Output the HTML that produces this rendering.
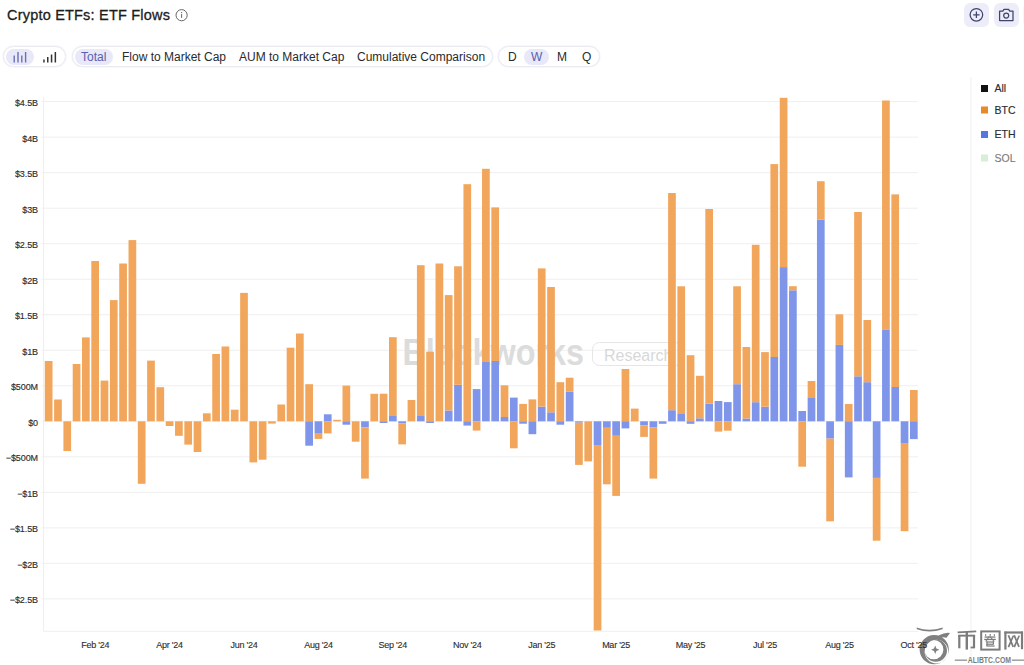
<!DOCTYPE html>
<html>
<head>
<meta charset="utf-8">
<style>
html,body{margin:0;padding:0;background:#fff;}
body{width:1024px;height:665px;overflow:hidden;position:relative;font-family:"Liberation Sans",sans-serif;color:#1f1f1f;}
.title{position:absolute;left:7px;top:5px;font-size:14.5px;line-height:20px;color:#1c1c1c;white-space:nowrap;letter-spacing:0.2px;-webkit-text-stroke:0.3px #1c1c1c;}
.pill{position:absolute;top:46px;height:21px;border:1px solid #EAEAF3;border-radius:12px;box-sizing:border-box;background:#fff;box-shadow:0 0 1px 0.5px #F2F2F8;}
.seg{position:absolute;top:3px;height:15px;border-radius:8px;}
.sel{background:#E8E8F8;}
.lbl{position:absolute;top:50px;font-size:12px;line-height:14px;color:#2a2a2a;white-space:nowrap;}
.lbl.on{color:#5a5eae;}
.btn{position:absolute;top:3px;width:25px;height:24px;border-radius:6px;background:#EDEDFA;}
svg text{font-family:"Liberation Sans",sans-serif;}
.yl{font-size:9px;fill:#2e2e2e;stroke:#2e2e2e;stroke-width:0.15px;letter-spacing:-0.1px;}
.xl{font-size:9px;fill:#2e2e2e;stroke:#2e2e2e;stroke-width:0.12px;letter-spacing:-0.25px;}
.lg{font-size:10.5px;fill:#2c2c2c;stroke:#2c2c2c;stroke-width:0.15px;}
</style>
</head>
<body>
<div class="title">Crypto ETFs: ETF Flows</div>
<svg style="position:absolute;left:174px;top:8px" viewBox="0 0 15 15" width="15" height="15"><circle cx="7.6" cy="7.2" r="5.6" fill="none" stroke="#666" stroke-width="1"/><rect x="7.1" y="6" width="1" height="3.9" fill="#666"/><rect x="7.1" y="4" width="1" height="1.1" fill="#666"/></svg>

<div class="pill" style="left:3px;width:63px;"></div>
<div class="seg sel" style="left:6px;top:49px;width:28px;height:16px;position:absolute;"></div>
<svg style="position:absolute;left:12px;top:50px" width="16" height="14" viewBox="0 0 16 14"><g fill="#6a6fb8"><rect x="1.5" y="5.5" width="1.4" height="7"/><rect x="5.3" y="2" width="1.4" height="10.5"/><rect x="9.1" y="5.5" width="1.4" height="7"/><rect x="12.9" y="2" width="1.4" height="10.5"/></g></svg>
<svg style="position:absolute;left:42px;top:50px" width="16" height="14" viewBox="0 0 16 14"><g fill="#333"><rect x="1.2" y="9.5" width="1.5" height="3"/><rect x="5" y="7" width="1.5" height="5.5"/><rect x="8.8" y="4.5" width="1.5" height="8"/><rect x="12.6" y="2" width="1.5" height="10.5"/></g></svg>

<div class="pill" style="left:72px;width:421px;"></div>
<div class="seg sel" style="left:75px;top:49px;width:38px;height:16px;position:absolute;"></div>
<div class="lbl on" style="left:81px;">Total</div>
<div class="lbl" style="left:122px;">Flow to Market Cap</div>
<div class="lbl" style="left:239px;">AUM to Market Cap</div>
<div class="lbl" style="left:357px;">Cumulative Comparison</div>

<div class="pill" style="left:498px;width:102px;"></div>
<div class="seg sel" style="left:524px;top:49px;width:25px;height:16px;position:absolute;"></div>
<div class="lbl" style="left:508px;">D</div>
<div class="lbl on" style="left:531px;">W</div>
<div class="lbl" style="left:557px;">M</div>
<div class="lbl" style="left:582px;">Q</div>

<div class="btn" style="left:963.5px;"></div>
<svg style="position:absolute;left:964px;top:3px" width="24" height="24" viewBox="0 0 24 24"><circle cx="12.4" cy="11.8" r="6.3" fill="none" stroke="#40436c" stroke-width="1.25"/><path d="M12.4 8.6v6.4M9.2 11.8h6.4" stroke="#40436c" stroke-width="1.25"/></svg>
<div class="btn" style="left:993.5px;"></div>
<svg style="position:absolute;left:994px;top:3px" width="24" height="24" viewBox="0 0 24 24"><path d="M5.6 8.2h3.2l1.2-1.9h4.6l1.2 1.9h3.2v9.4H5.6z" fill="none" stroke="#40436c" stroke-width="1.25" stroke-linejoin="round"/><circle cx="12.2" cy="12.5" r="2.5" fill="none" stroke="#40436c" stroke-width="1.25"/></svg>

<svg style="position:absolute;left:0;top:0" width="1024" height="665" viewBox="0 0 1024 665">
<g>
<line x1="41.5" y1="101.62" x2="918" y2="101.62" stroke="#EFEFEF" stroke-width="1"/>
<text x="38" y="106.02" text-anchor="end" class="yl">$4.5B</text>
<line x1="41.5" y1="137.14" x2="918" y2="137.14" stroke="#EFEFEF" stroke-width="1"/>
<text x="38" y="141.54" text-anchor="end" class="yl">$4B</text>
<line x1="41.5" y1="172.66" x2="918" y2="172.66" stroke="#EFEFEF" stroke-width="1"/>
<text x="38" y="177.06" text-anchor="end" class="yl">$3.5B</text>
<line x1="41.5" y1="208.18" x2="918" y2="208.18" stroke="#EFEFEF" stroke-width="1"/>
<text x="38" y="212.58" text-anchor="end" class="yl">$3B</text>
<line x1="41.5" y1="243.70" x2="918" y2="243.70" stroke="#EFEFEF" stroke-width="1"/>
<text x="38" y="248.10" text-anchor="end" class="yl">$2.5B</text>
<line x1="41.5" y1="279.22" x2="918" y2="279.22" stroke="#EFEFEF" stroke-width="1"/>
<text x="38" y="283.62" text-anchor="end" class="yl">$2B</text>
<line x1="41.5" y1="314.74" x2="918" y2="314.74" stroke="#EFEFEF" stroke-width="1"/>
<text x="38" y="319.14" text-anchor="end" class="yl">$1.5B</text>
<line x1="41.5" y1="350.26" x2="918" y2="350.26" stroke="#EFEFEF" stroke-width="1"/>
<text x="38" y="354.66" text-anchor="end" class="yl">$1B</text>
<line x1="41.5" y1="385.78" x2="918" y2="385.78" stroke="#EFEFEF" stroke-width="1"/>
<text x="38" y="390.18" text-anchor="end" class="yl">$500M</text>
<line x1="41.5" y1="421.30" x2="918" y2="421.30" stroke="#EFEFEF" stroke-width="1"/>
<text x="38" y="425.70" text-anchor="end" class="yl">$0</text>
<line x1="41.5" y1="456.82" x2="918" y2="456.82" stroke="#EFEFEF" stroke-width="1"/>
<text x="38" y="461.22" text-anchor="end" class="yl">−$500M</text>
<line x1="41.5" y1="492.34" x2="918" y2="492.34" stroke="#EFEFEF" stroke-width="1"/>
<text x="38" y="496.74" text-anchor="end" class="yl">−$1B</text>
<line x1="41.5" y1="527.86" x2="918" y2="527.86" stroke="#EFEFEF" stroke-width="1"/>
<text x="38" y="532.26" text-anchor="end" class="yl">−$1.5B</text>
<line x1="41.5" y1="563.38" x2="918" y2="563.38" stroke="#EFEFEF" stroke-width="1"/>
<text x="38" y="567.78" text-anchor="end" class="yl">−$2B</text>
<line x1="41.5" y1="598.90" x2="918" y2="598.90" stroke="#EFEFEF" stroke-width="1"/>
<text x="38" y="603.30" text-anchor="end" class="yl">−$2.5B</text>
<line x1="43.6" y1="97" x2="43.6" y2="631.3" stroke="#EFEFEF" stroke-width="1"/>
<line x1="43.6" y1="631.3" x2="918" y2="631.3" stroke="#EFEFEF" stroke-width="1"/>
</g>
<text x="402.5" y="365" font-size="37" font-weight="bold" fill="#DCDCDC" textLength="181.5" lengthAdjust="spacingAndGlyphs">Blockworks</text>
<rect x="592.5" y="342.5" width="90" height="23" rx="7" fill="none" stroke="#E6E6E6" stroke-width="1"/>
<text x="604" y="361" font-size="16" fill="#D8D8D8">Research</text>
<g>
<rect x="44.80" y="361.00" width="7.7" height="60.30" fill="#F1A65C"/>
<rect x="54.10" y="399.50" width="7.7" height="21.80" fill="#F1A65C"/>
<rect x="63.41" y="421.30" width="7.7" height="29.70" fill="#F1A65C"/>
<rect x="72.71" y="364.00" width="7.7" height="57.30" fill="#F1A65C"/>
<rect x="82.01" y="337.40" width="7.7" height="83.90" fill="#F1A65C"/>
<rect x="91.31" y="261.00" width="7.7" height="160.30" fill="#F1A65C"/>
<rect x="100.62" y="380.60" width="7.7" height="40.70" fill="#F1A65C"/>
<rect x="109.92" y="300.10" width="7.7" height="121.20" fill="#F1A65C"/>
<rect x="119.22" y="263.50" width="7.7" height="157.80" fill="#F1A65C"/>
<rect x="128.53" y="240.10" width="7.7" height="181.20" fill="#F1A65C"/>
<rect x="137.83" y="421.30" width="7.7" height="62.50" fill="#F1A65C"/>
<rect x="147.13" y="360.60" width="7.7" height="60.70" fill="#F1A65C"/>
<rect x="156.44" y="387.20" width="7.7" height="34.10" fill="#F1A65C"/>
<rect x="165.74" y="421.30" width="7.7" height="4.70" fill="#F1A65C"/>
<rect x="175.04" y="421.30" width="7.7" height="14.50" fill="#F1A65C"/>
<rect x="184.35" y="421.30" width="7.7" height="23.30" fill="#F1A65C"/>
<rect x="193.65" y="421.30" width="7.7" height="30.70" fill="#F1A65C"/>
<rect x="202.95" y="413.30" width="7.7" height="8.00" fill="#F1A65C"/>
<rect x="212.25" y="354.00" width="7.7" height="67.30" fill="#F1A65C"/>
<rect x="221.56" y="346.50" width="7.7" height="74.80" fill="#F1A65C"/>
<rect x="230.86" y="409.70" width="7.7" height="11.60" fill="#F1A65C"/>
<rect x="240.16" y="292.90" width="7.7" height="128.40" fill="#F1A65C"/>
<rect x="249.47" y="421.30" width="7.7" height="41.10" fill="#F1A65C"/>
<rect x="258.77" y="421.30" width="7.7" height="38.40" fill="#F1A65C"/>
<rect x="268.07" y="421.30" width="7.7" height="2.30" fill="#F1A65C"/>
<rect x="277.38" y="404.50" width="7.7" height="16.80" fill="#F1A65C"/>
<rect x="286.68" y="347.70" width="7.7" height="73.60" fill="#F1A65C"/>
<rect x="295.98" y="333.50" width="7.7" height="87.80" fill="#F1A65C"/>
<rect x="305.28" y="384.20" width="7.7" height="37.10" fill="#F1A65C"/>
<rect x="305.28" y="421.30" width="7.7" height="24.40" fill="#7E95EA"/>
<rect x="314.59" y="421.30" width="7.7" height="12.40" fill="#7E95EA"/>
<rect x="314.59" y="433.70" width="7.7" height="5.20" fill="#F1A65C"/>
<rect x="323.89" y="414.30" width="7.7" height="7.00" fill="#7E95EA"/>
<rect x="323.89" y="421.30" width="7.7" height="12.10" fill="#F1A65C"/>
<rect x="333.19" y="419.80" width="7.7" height="1.50" fill="#F1A65C"/>
<rect x="342.50" y="385.60" width="7.7" height="35.70" fill="#F1A65C"/>
<rect x="342.50" y="421.30" width="7.7" height="3.40" fill="#7E95EA"/>
<rect x="351.80" y="421.30" width="7.7" height="20.40" fill="#F1A65C"/>
<rect x="361.10" y="421.30" width="7.7" height="6.20" fill="#7E95EA"/>
<rect x="361.10" y="427.50" width="7.7" height="51.10" fill="#F1A65C"/>
<rect x="370.41" y="393.80" width="7.7" height="27.50" fill="#F1A65C"/>
<rect x="379.71" y="393.70" width="7.7" height="27.60" fill="#F1A65C"/>
<rect x="379.71" y="421.30" width="7.7" height="1.70" fill="#7E95EA"/>
<rect x="389.01" y="416.00" width="7.7" height="5.30" fill="#7E95EA"/>
<rect x="389.01" y="337.20" width="7.7" height="78.80" fill="#F1A65C"/>
<rect x="398.31" y="421.30" width="7.7" height="2.10" fill="#7E95EA"/>
<rect x="398.31" y="423.40" width="7.7" height="21.00" fill="#F1A65C"/>
<rect x="407.62" y="400.00" width="7.7" height="21.30" fill="#F1A65C"/>
<rect x="416.92" y="416.00" width="7.7" height="5.30" fill="#7E95EA"/>
<rect x="416.92" y="265.20" width="7.7" height="150.80" fill="#F1A65C"/>
<rect x="426.22" y="351.70" width="7.7" height="69.60" fill="#F1A65C"/>
<rect x="426.22" y="421.30" width="7.7" height="1.70" fill="#7E95EA"/>
<rect x="435.53" y="263.50" width="7.7" height="157.80" fill="#F1A65C"/>
<rect x="444.83" y="410.50" width="7.7" height="10.80" fill="#7E95EA"/>
<rect x="444.83" y="295.10" width="7.7" height="115.40" fill="#F1A65C"/>
<rect x="454.13" y="384.80" width="7.7" height="36.50" fill="#7E95EA"/>
<rect x="454.13" y="266.30" width="7.7" height="118.50" fill="#F1A65C"/>
<rect x="463.44" y="184.20" width="7.7" height="237.10" fill="#F1A65C"/>
<rect x="463.44" y="421.30" width="7.7" height="4.30" fill="#7E95EA"/>
<rect x="472.74" y="389.10" width="7.7" height="32.20" fill="#7E95EA"/>
<rect x="472.74" y="421.30" width="7.7" height="9.30" fill="#F1A65C"/>
<rect x="482.04" y="362.00" width="7.7" height="59.30" fill="#7E95EA"/>
<rect x="482.04" y="168.80" width="7.7" height="193.20" fill="#F1A65C"/>
<rect x="491.34" y="361.00" width="7.7" height="60.30" fill="#7E95EA"/>
<rect x="491.34" y="207.40" width="7.7" height="153.60" fill="#F1A65C"/>
<rect x="500.65" y="417.00" width="7.7" height="4.30" fill="#7E95EA"/>
<rect x="500.65" y="385.30" width="7.7" height="31.70" fill="#F1A65C"/>
<rect x="509.95" y="397.60" width="7.7" height="23.70" fill="#7E95EA"/>
<rect x="509.95" y="421.30" width="7.7" height="27.00" fill="#F1A65C"/>
<rect x="519.25" y="403.90" width="7.7" height="17.40" fill="#F1A65C"/>
<rect x="519.25" y="421.30" width="7.7" height="2.40" fill="#7E95EA"/>
<rect x="528.56" y="399.40" width="7.7" height="21.90" fill="#F1A65C"/>
<rect x="528.56" y="421.30" width="7.7" height="12.90" fill="#7E95EA"/>
<rect x="537.86" y="406.60" width="7.7" height="14.70" fill="#7E95EA"/>
<rect x="537.86" y="268.40" width="7.7" height="138.20" fill="#F1A65C"/>
<rect x="547.16" y="412.30" width="7.7" height="9.00" fill="#7E95EA"/>
<rect x="547.16" y="287.00" width="7.7" height="125.30" fill="#F1A65C"/>
<rect x="556.47" y="382.20" width="7.7" height="39.10" fill="#F1A65C"/>
<rect x="556.47" y="421.30" width="7.7" height="3.40" fill="#7E95EA"/>
<rect x="565.77" y="391.80" width="7.7" height="29.50" fill="#7E95EA"/>
<rect x="565.77" y="377.70" width="7.7" height="14.10" fill="#F1A65C"/>
<rect x="575.07" y="421.30" width="7.7" height="1.40" fill="#7E95EA"/>
<rect x="575.07" y="422.70" width="7.7" height="42.20" fill="#F1A65C"/>
<rect x="584.37" y="421.30" width="7.7" height="40.10" fill="#F1A65C"/>
<rect x="593.68" y="421.30" width="7.7" height="24.40" fill="#7E95EA"/>
<rect x="593.68" y="445.70" width="7.7" height="184.80" fill="#F1A65C"/>
<rect x="602.98" y="421.30" width="7.7" height="6.50" fill="#7E95EA"/>
<rect x="602.98" y="427.80" width="7.7" height="56.50" fill="#F1A65C"/>
<rect x="612.28" y="421.30" width="7.7" height="14.50" fill="#7E95EA"/>
<rect x="612.28" y="435.80" width="7.7" height="60.10" fill="#F1A65C"/>
<rect x="621.59" y="369.00" width="7.7" height="52.30" fill="#F1A65C"/>
<rect x="621.59" y="421.30" width="7.7" height="7.10" fill="#7E95EA"/>
<rect x="630.89" y="408.60" width="7.7" height="12.70" fill="#F1A65C"/>
<rect x="640.19" y="421.30" width="7.7" height="4.00" fill="#7E95EA"/>
<rect x="640.19" y="425.30" width="7.7" height="11.60" fill="#F1A65C"/>
<rect x="649.50" y="421.30" width="7.7" height="5.90" fill="#7E95EA"/>
<rect x="649.50" y="427.20" width="7.7" height="51.40" fill="#F1A65C"/>
<rect x="658.80" y="421.30" width="7.7" height="2.50" fill="#7E95EA"/>
<rect x="668.10" y="410.20" width="7.7" height="11.10" fill="#7E95EA"/>
<rect x="668.10" y="193.00" width="7.7" height="217.20" fill="#F1A65C"/>
<rect x="677.40" y="414.00" width="7.7" height="7.30" fill="#7E95EA"/>
<rect x="677.40" y="286.30" width="7.7" height="127.70" fill="#F1A65C"/>
<rect x="686.71" y="355.20" width="7.7" height="66.10" fill="#F1A65C"/>
<rect x="686.71" y="421.30" width="7.7" height="2.50" fill="#7E95EA"/>
<rect x="696.01" y="418.30" width="7.7" height="3.00" fill="#7E95EA"/>
<rect x="696.01" y="375.80" width="7.7" height="42.50" fill="#F1A65C"/>
<rect x="705.31" y="403.60" width="7.7" height="17.70" fill="#7E95EA"/>
<rect x="705.31" y="209.00" width="7.7" height="194.60" fill="#F1A65C"/>
<rect x="714.62" y="401.00" width="7.7" height="20.30" fill="#7E95EA"/>
<rect x="714.62" y="421.30" width="7.7" height="10.30" fill="#F1A65C"/>
<rect x="723.92" y="402.10" width="7.7" height="19.20" fill="#7E95EA"/>
<rect x="723.92" y="421.30" width="7.7" height="9.40" fill="#F1A65C"/>
<rect x="733.22" y="384.20" width="7.7" height="37.10" fill="#7E95EA"/>
<rect x="733.22" y="286.30" width="7.7" height="97.90" fill="#F1A65C"/>
<rect x="742.52" y="418.50" width="7.7" height="2.80" fill="#7E95EA"/>
<rect x="742.52" y="347.00" width="7.7" height="71.50" fill="#F1A65C"/>
<rect x="751.83" y="402.20" width="7.7" height="19.10" fill="#7E95EA"/>
<rect x="751.83" y="244.80" width="7.7" height="157.40" fill="#F1A65C"/>
<rect x="761.13" y="406.70" width="7.7" height="14.60" fill="#7E95EA"/>
<rect x="761.13" y="352.10" width="7.7" height="54.60" fill="#F1A65C"/>
<rect x="770.43" y="357.00" width="7.7" height="64.30" fill="#7E95EA"/>
<rect x="770.43" y="164.10" width="7.7" height="192.90" fill="#F1A65C"/>
<rect x="779.74" y="267.10" width="7.7" height="154.20" fill="#7E95EA"/>
<rect x="779.74" y="97.80" width="7.7" height="169.30" fill="#F1A65C"/>
<rect x="789.04" y="290.30" width="7.7" height="131.00" fill="#7E95EA"/>
<rect x="789.04" y="286.20" width="7.7" height="4.10" fill="#F1A65C"/>
<rect x="798.34" y="411.00" width="7.7" height="10.30" fill="#7E95EA"/>
<rect x="798.34" y="421.30" width="7.7" height="45.40" fill="#F1A65C"/>
<rect x="807.65" y="398.00" width="7.7" height="23.30" fill="#7E95EA"/>
<rect x="807.65" y="381.00" width="7.7" height="17.00" fill="#F1A65C"/>
<rect x="816.95" y="219.50" width="7.7" height="201.80" fill="#7E95EA"/>
<rect x="816.95" y="181.20" width="7.7" height="38.30" fill="#F1A65C"/>
<rect x="826.25" y="421.30" width="7.7" height="17.30" fill="#7E95EA"/>
<rect x="826.25" y="438.60" width="7.7" height="82.70" fill="#F1A65C"/>
<rect x="835.56" y="344.90" width="7.7" height="76.40" fill="#7E95EA"/>
<rect x="835.56" y="314.30" width="7.7" height="30.60" fill="#F1A65C"/>
<rect x="844.86" y="404.00" width="7.7" height="17.30" fill="#F1A65C"/>
<rect x="844.86" y="421.30" width="7.7" height="56.10" fill="#7E95EA"/>
<rect x="854.16" y="376.30" width="7.7" height="45.00" fill="#7E95EA"/>
<rect x="854.16" y="212.00" width="7.7" height="164.30" fill="#F1A65C"/>
<rect x="863.46" y="382.20" width="7.7" height="39.10" fill="#7E95EA"/>
<rect x="863.46" y="320.00" width="7.7" height="62.20" fill="#F1A65C"/>
<rect x="872.77" y="421.30" width="7.7" height="56.60" fill="#7E95EA"/>
<rect x="872.77" y="477.90" width="7.7" height="62.80" fill="#F1A65C"/>
<rect x="882.07" y="329.90" width="7.7" height="91.40" fill="#7E95EA"/>
<rect x="882.07" y="100.50" width="7.7" height="229.40" fill="#F1A65C"/>
<rect x="891.37" y="387.00" width="7.7" height="34.30" fill="#7E95EA"/>
<rect x="891.37" y="194.40" width="7.7" height="192.60" fill="#F1A65C"/>
<rect x="900.68" y="421.30" width="7.7" height="22.40" fill="#7E95EA"/>
<rect x="900.68" y="443.70" width="7.7" height="87.50" fill="#F1A65C"/>
<rect x="909.98" y="390.00" width="7.7" height="31.30" fill="#F1A65C"/>
<rect x="909.98" y="421.30" width="7.7" height="17.80" fill="#7E95EA"/>
</g>
<line x1="971" y1="77" x2="971" y2="665" stroke="#EFEFEF" stroke-width="1"/>
<rect x="981" y="85" width="7" height="7" fill="#111"/>
<text x="994.5" y="92" class="lg">All</text>
<rect x="981" y="106.5" width="7" height="7" fill="#E88A26"/>
<text x="994.5" y="113.8" class="lg">BTC</text>
<rect x="981" y="131" width="7" height="7" fill="#5676E4"/>
<text x="994.5" y="138.2" class="lg">ETH</text>
<rect x="981" y="154.5" width="7" height="7" fill="#D6EFD6"/>
<text x="994.5" y="162" class="lg" style="fill:#7a7a7a;stroke:#7a7a7a;stroke-width:0.1px">SOL</text>

<g fill="#808080" stroke="none">
<path d="M916.6 627.6 Q929.5 632.2 942.8 627.4 L942.5 629.2 Q929.5 634 916.9 629.2 Z"/>
<path fill-rule="evenodd" d="M919.6 649.6 A14.6 14.6 0 1 0 948.8 649.6 A14.6 14.6 0 1 0 919.6 649.6 Z M924.6 651.6 A11.8 11.8 0 1 0 948.2 651.6 A11.8 11.8 0 1 0 924.6 651.6 Z"/>
<path d="M938.5 635.6 Q945 632.2 950 633 L946.5 637.8 Q943 636.6 940.5 637.8 Z"/>
<path fill-rule="evenodd" d="M924.6 650.6 A11.2 11.2 0 1 0 947 650.6 A11.2 11.2 0 1 0 924.6 650.6 Z M924.2 649.6 A9.6 9.6 0 1 0 943.4 649.6 A9.6 9.6 0 1 0 924.2 649.6 Z"/>
<path d="M935.2 645.6 L936.4 648.6 L939.4 649.8 L936.4 651 L935.2 654 L934 651 L931 649.8 L934 648.6 Z"/>
</g>
<g fill="#7c7c7c">
<path d="M957.6 631.4 L976.2 630.4 L976.3 632.2 L957.7 633.3 Z"/>
<rect x="958.3" y="634.7" width="16.8" height="1.9"/>
<rect x="958.2" y="635" width="2.2" height="13.3"/>
<rect x="972.9" y="635" width="2.2" height="13"/>
<rect x="970.6" y="646.6" width="4.4" height="1.8"/>
<rect x="965.6" y="632" width="2.4" height="17.6"/>
<rect x="981.2" y="631.4" width="18.4" height="18.2" fill="none" stroke="#7c7c7c" stroke-width="2"/>
<rect x="985" y="634.2" width="1.2" height="1.6"/><rect x="989.6" y="634" width="1.2" height="1.8"/><rect x="993.8" y="634.2" width="1.2" height="1.6"/>
<rect x="984.6" y="636.4" width="10.8" height="1.3"/>
<rect x="984.2" y="638.8" width="11.6" height="1.3"/>
<path d="M988.6 636.6 L985.2 641.6 L986.4 641.6 L989.8 636.6 Z"/>
<path d="M990.6 636.6 L994.8 641.6 L993.6 641.6 L989.4 636.6 Z"/>
<rect x="986.4" y="641.4" width="7.6" height="1.2"/>
<rect x="992.8" y="641.4" width="1.2" height="3.3"/>
<rect x="986.4" y="643.6" width="6.6" height="1.2"/>
<rect x="986.4" y="641.4" width="1.2" height="4.6"/>
<rect x="986.4" y="645.4" width="8.2" height="1.2"/>
<rect x="1004.4" y="631.4" width="18.6" height="2.2"/>
<rect x="1004.3" y="631.6" width="2.2" height="18"/>
<rect x="1020.9" y="631.6" width="2.2" height="17.6"/>
<path d="M1007.6 635.5 L1009.2 635.0 L1014.0 646.6 L1012.4 647.2 Z"/>
<path d="M1012.6 635.5 L1014.2 635.8 L1009.2 647.4 L1007.6 646.8 Z"/>
<path d="M1013.4 635.5 L1015.0 635.0 L1019.8 646.6 L1018.2 647.2 Z"/>
<path d="M1018.4 635.5 L1020.0 635.8 L1015.0 647.4 L1013.4 646.8 Z"/>
<rect x="954.8" y="659.6" width="12.3" height="1.1"/>
<rect x="1011.8" y="659.6" width="12.2" height="1.1"/>
</g>
<text x="967.8" y="662.8" font-size="8.6" font-weight="bold" fill="#7c7c7c" textLength="43.2" lengthAdjust="spacingAndGlyphs">ALIBTC.COM</text>
<text x="95.16" y="648" text-anchor="middle" class="xl">Feb '24</text>
<text x="169.59" y="648" text-anchor="middle" class="xl">Apr '24</text>
<text x="244.01" y="648" text-anchor="middle" class="xl">Jun '24</text>
<text x="318.44" y="648" text-anchor="middle" class="xl">Aug '24</text>
<text x="392.86" y="648" text-anchor="middle" class="xl">Sep '24</text>
<text x="467.29" y="648" text-anchor="middle" class="xl">Nov '24</text>
<text x="541.71" y="648" text-anchor="middle" class="xl">Jan '25</text>
<text x="616.13" y="648" text-anchor="middle" class="xl">Mar '25</text>
<text x="690.56" y="648" text-anchor="middle" class="xl">May '25</text>
<text x="764.98" y="648" text-anchor="middle" class="xl">Jul '25</text>
<text x="839.41" y="648" text-anchor="middle" class="xl">Aug '25</text>
<text x="913.83" y="648" text-anchor="middle" class="xl">Oct '25</text>
</svg>
<div class="btn" style="left:1022.5px;background:#F5F5FB;"></div>
</body>
</html>
